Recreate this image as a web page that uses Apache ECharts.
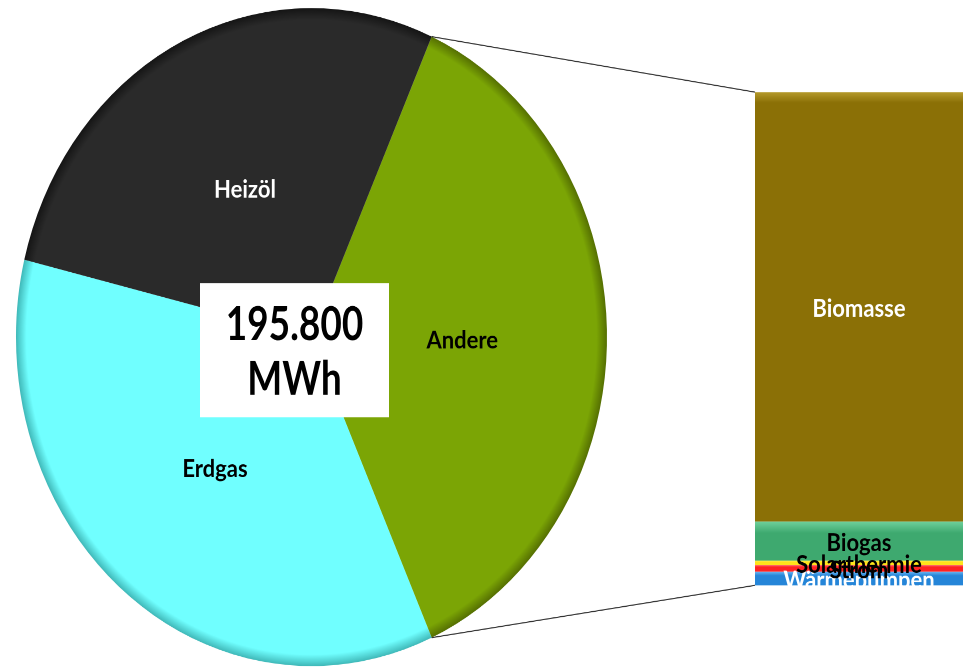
<!DOCTYPE html>
<html>
<head>
<meta charset="utf-8">
<script src="https://cdn.jsdelivr.net/npm/echarts@6/dist/echarts.min.js"></script>
<style>
html,body{margin:0;padding:0;background:#fff;overflow:hidden;width:963px;height:668px;}
#chart{width:963px;height:600px;transform:scaleY(1.1133);transform-origin:0 0;}
</style>
</head>
<body>
<div id="chart"></div>
<script>
// ---- data ----
const pieCategories = ['Andere', 'Erdgas', 'Heizöl'];
const pieValues = [71800, 69400, 54600];
const pieColors = ['#7ba505', '#70ffff', '#2a2a2a'];
const pieRimColors = ['#556f02', '#3fb8b8', '#151515'];
const pieLabelColors = ['#000', '#000', '#fff'];

const barCategories = ['Biomasse', 'Biogas', 'Solarthermie', 'Strom', 'Wärmepumpen'];
const barValues = [62500, 5700, 650, 950, 2000];
const barColors = ['#8b7006', '#3ea96f', '#ffe31a', '#ff2222', '#2585d8'];
const barHighlight = ['#b59a2c', '#6fd19c', '#fff27a', '#ff7777', '#6db6f2'];
const barLabelColors = ['#fff', '#000', '#000', '#000', '#fff'];

const totalLines = ['195.800', 'MWh'];

// ---- chart ----
const FONT = 'Lato';
const chart = echarts.init(document.getElementById('chart'), null, {renderer: 'canvas', devicePixelRatio: 2});

const pieTotal = pieValues.reduce((a, b) => a + b, 0);
const barTotal = barValues.reduce((a, b) => a + b, 0);
const startAngle = pieValues[0] / pieTotal * 180; // center "Andere" on the right
const pieCenter = [311.5, 302.8];
const pieRadius = 295.5;

const series = [{
  type: 'pie',
  center: pieCenter,
  radius: pieRadius,
  startAngle: startAngle,
  clockwise: true,
  silent: true,
  label: {position: 'inside', fontFamily: FONT, fontWeight: 'bold', fontSize: 22, offset: [0, 3]},
  labelLine: {show: false},
  data: pieCategories.map((n, i) => ({
    name: n, value: pieValues[i],
    itemStyle: {
      color: {
        type: 'radial', x: pieCenter[0], y: pieCenter[1], r: pieRadius, global: true,
        colorStops: [
          {offset: 0, color: pieColors[i]},
          {offset: 0.965, color: pieColors[i]},
          {offset: 1, color: pieRimColors[i]}
        ]
      }
    },
    label: {color: pieLabelColors[i], formatter: '{b}'}
  }))
}];

for (let i = barCategories.length - 1; i >= 0; i--) {
  const stop = i === 0 ? 0.025 : 0.3;
  series.push({
    type: 'bar',
    name: barCategories[i],
    stack: 'andere',
    barWidth: '100%',
    silent: true,
    itemStyle: {
      color: {
        type: 'linear', x: 0, y: 0, x2: 0, y2: 1,
        colorStops: [
          {offset: 0, color: barHighlight[i]},
          {offset: stop, color: barColors[i]},
          {offset: 1, color: barColors[i]}
        ]
      }
    },
    label: {
      show: true, position: 'inside', formatter: barCategories[i], offset: [0, 2],
      color: barLabelColors[i], fontFamily: FONT, fontWeight: 'bold', fontSize: 22
    },
    data: [barValues[i]]
  });
}

chart.setOption({
  animation: false,
  backgroundColor: '#fff',
  grid: {left: 755, top: 82.7, width: 220, height: 443},
  xAxis: {type: 'category', data: ['Andere'], show: false},
  yAxis: {type: 'value', min: 0, max: barTotal, show: false},
  series: series
});

// connector lines + centre box
const rect = chart.getModel().getComponent('grid', 0).coordinateSystem.getRect();
const yTop = chart.convertToPixel({yAxisIndex: 0}, barTotal);
const yBot = chart.convertToPixel({yAxisIndex: 0}, 0);
const a = startAngle * Math.PI / 180;
const pTop = [pieCenter[0] + pieRadius * Math.cos(a), pieCenter[1] - pieRadius * Math.sin(a)];
const pBot = [pieCenter[0] + pieRadius * Math.cos(a), pieCenter[1] + pieRadius * Math.sin(a)];

chart.setOption({
  graphic: [
    {type: 'line', shape: {x1: pTop[0], y1: pTop[1], x2: rect.x, y2: yTop}, style: {stroke: '#333', lineWidth: 1}, z: 10},
    {type: 'line', shape: {x1: pBot[0], y1: pBot[1], x2: rect.x, y2: yBot}, style: {stroke: '#333', lineWidth: 1}, z: 10},
    {type: 'rect', shape: {x: 200, y: 254.3, width: 189, height: 120.4}, style: {fill: '#fff'}, z: 20},
    {type: 'text', x: 294.5, y: 292, scaleY: 1.15, z: 21, style: {text: totalLines[0], fontFamily: FONT, fontWeight: 'bold', fontSize: 37, fill: '#000', align: 'center', verticalAlign: 'middle'}},
    {type: 'text', x: 294.5, y: 341, scaleY: 1.15, z: 21, style: {text: totalLines[1], fontFamily: FONT, fontWeight: 'bold', fontSize: 37, fill: '#000', align: 'center', verticalAlign: 'middle'}}
  ]
});
</script>
</body>
</html>
